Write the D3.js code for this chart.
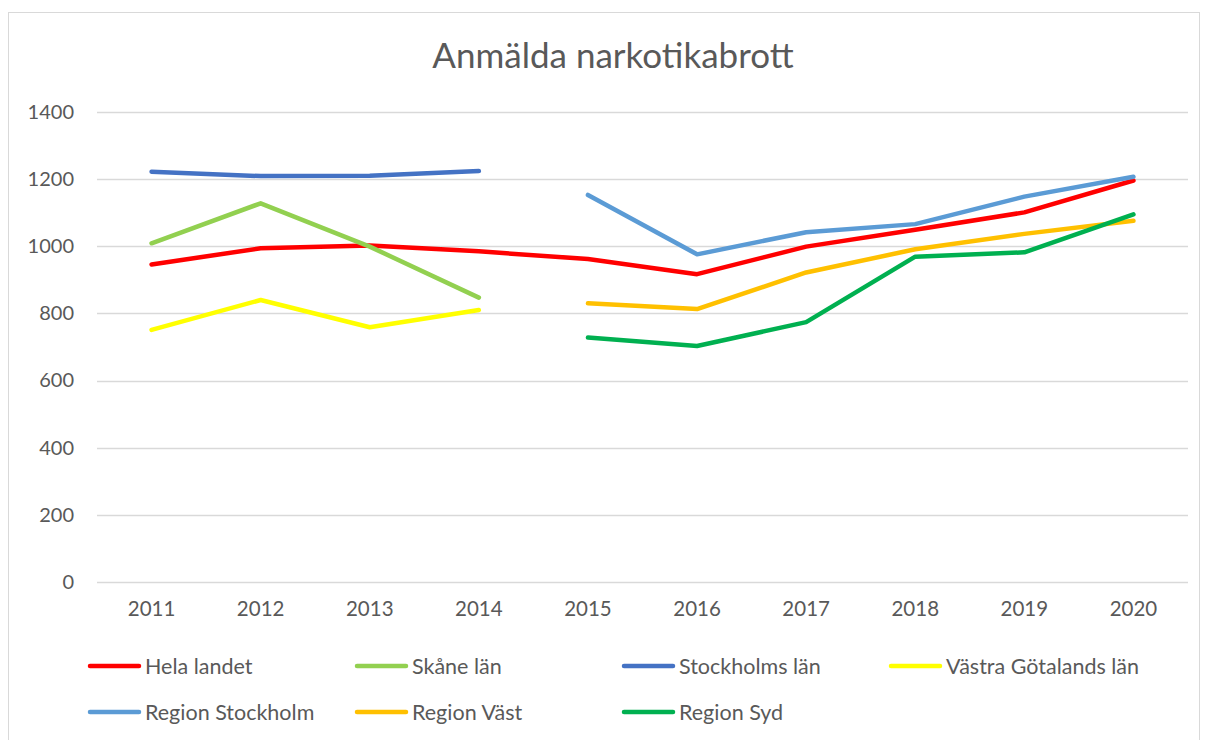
<!DOCTYPE html>
<html><head><meta charset="utf-8">
<script src="https://cdn.jsdelivr.net/npm/d3@7"></script>
<style>body{margin:0;background:#fff;} text{font-family:Lato,"Open Sans",sans-serif;}</style>
</head><body><svg id="c" width="1205" height="740"></svg>
<script>
const years = ["2011","2012","2013","2014","2015","2016","2017","2018","2019","2020"];
const helaLandet = [946, 994, 1002, 985, 962, 917, 999, 1049, 1101, 1196];
const skane = [1009, 1128, 999, 847, null, null, null, null, null, null];
const stockholmsLan = [1222, 1209, 1210, 1224, null, null, null, null, null, null];
const vastraGotaland = [751, 840, 759, 810, null, null, null, null, null, null];
const regionStockholm = [null, null, null, null, 1153, 976, 1042, 1066, 1148, 1207];
const regionVast = [null, null, null, null, 830, 813, 922, 991, 1037, 1076];
const regionSyd = [null, null, null, null, 728, 703, 774, 969, 982, 1095];
const yTicks = [0, 200, 400, 600, 800, 1000, 1200, 1400];
const seriesNames = ["Hela landet","Skåne län","Stockholms län","Västra Götalands län","Region Stockholm","Region Väst","Region Syd"];
const seriesColors = ["#FF0000","#92D050","#4472C4","#FFFF00","#5B9BD5","#FFC000","#00B050"];
const seriesData = [helaLandet, skane, stockholmsLan, vastraGotaland, regionStockholm, regionVast, regionSyd];

const svg = d3.select("#c");
svg.append("rect").attr("x",8.5).attr("y",12.5).attr("width",1191).attr("height",730)
  .attr("fill","#fff").attr("stroke","#d9d9d9").attr("stroke-width",1);

svg.append("text").attr("x",613).attr("y",68).attr("text-anchor","middle")
  .attr("font-size",35).attr("fill","#595959").text("Anmälda narkotikabrott");

const x = d3.scaleBand().domain(years).range([97,1188]);
const y = d3.scaleLinear().domain([0,1400]).range([582,112]);

const grid = svg.append("g");
grid.selectAll("line").data(yTicks).join("line")
  .attr("x1",97).attr("x2",1188).attr("y1",d=>Math.round(y(d))+0.5).attr("y2",d=>Math.round(y(d))+0.5)
  .attr("stroke","#d9d9d9").attr("stroke-width",1.3);

const yAxis = svg.append("g").attr("transform","translate(97,0)")
  .call(d3.axisLeft(y).tickValues(yTicks).tickSize(0).tickPadding(23).tickFormat(d3.format("d")));
yAxis.select(".domain").remove();
yAxis.selectAll("text").attr("font-size",20).attr("fill","#595959").attr("font-family","Lato");

const xAxis = svg.append("g").attr("transform","translate(0,582)")
  .call(d3.axisBottom(x).tickSize(0).tickPadding(19));
xAxis.select(".domain").remove();
xAxis.selectAll("text").attr("font-size",20.5).attr("fill","#595959").attr("font-family","Lato");

const line = d3.line().defined(d=>d!=null).x((d,i)=>x(years[i])+x.bandwidth()/2).y(d=>y(d));
seriesData.forEach((s,k)=>{
  svg.append("path").attr("d",line(s)).attr("fill","none").attr("stroke",seriesColors[k])
    .attr("stroke-width",4.5).attr("stroke-linecap","round").attr("stroke-linejoin","round");
});

const legX = [88, 355, 622, 889];
const legY = [666, 712];
seriesNames.forEach((n,k)=>{
  const lx = legX[k%4], ly = legY[Math.floor(k/4)];
  const g = svg.append("g");
  g.append("line").attr("x1",lx+2).attr("x2",lx+51).attr("y1",ly).attr("y2",ly)
    .attr("stroke",seriesColors[k]).attr("stroke-width",4.5).attr("stroke-linecap","round");
  g.append("text").attr("x",lx+57).attr("y",ly+7.5).attr("font-size",21.5).attr("fill","#595959").text(n);
});
</script></body></html>
